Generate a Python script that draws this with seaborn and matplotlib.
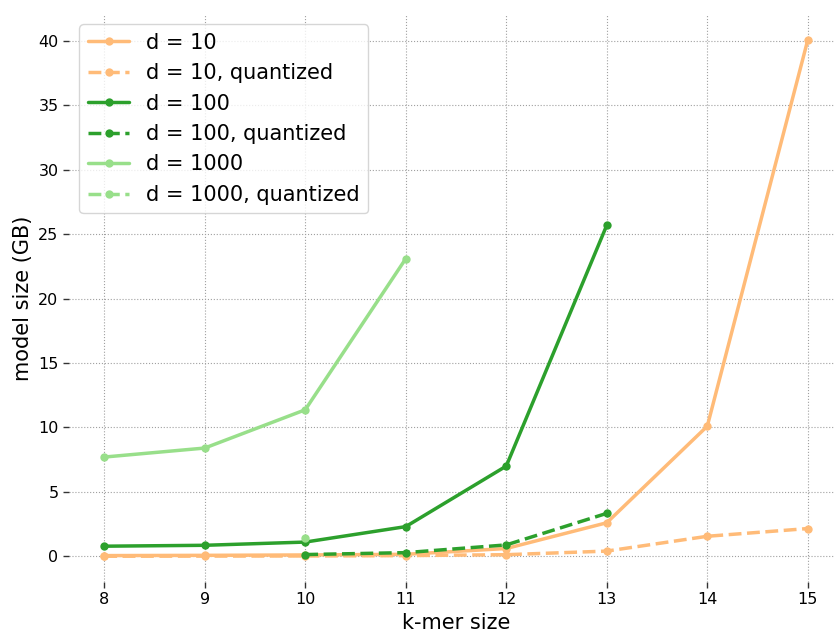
import matplotlib
matplotlib.use("Agg")
import matplotlib.pyplot as plt
import seaborn as sns
import pandas as pd

kmer = [8, 9, 10, 11, 12, 13, 14, 15]

d10 = [0.05, 0.07, 0.1, 0.15, 0.6, 2.6, 10.1, 40.1]
d10_q = [0.0, 0.01, 0.02, 0.05, 0.12, 0.4, 1.55, 2.15]

kmer_100 = [8, 9, 10, 11, 12, 13]
d100 = [0.78, 0.85, 1.1, 2.3, 7.0, 25.7]
kmer_100_q = [10, 11, 12, 13]
d100_q = [0.13, 0.28, 0.88, 3.33]

kmer_1000 = [8, 9, 10, 11]
d1000 = [7.7, 8.4, 11.37, 23.1]
kmer_1000_q = [10]
d1000_q = [1.42]

series = [
    ("d = 10", kmer, d10, "#ffbb78", "-"),
    ("d = 10, quantized", kmer, d10_q, "#ffbb78", "--"),
    ("d = 100", kmer_100, d100, "#2ca02c", "-"),
    ("d = 100, quantized", kmer_100_q, d100_q, "#2ca02c", "--"),
    ("d = 1000", kmer_1000, d1000, "#98df8a", "-"),
    ("d = 1000, quantized", kmer_1000_q, d1000_q, "#98df8a", "--"),
]

sns.set_style("white")
plt.rcParams['font.family'] = ['DejaVu Sans']
plt.rcParams['text.color'] = 'black'
plt.rcParams['axes.labelcolor'] = 'black'
plt.rcParams['xtick.color'] = 'black'
plt.rcParams['ytick.color'] = 'black'

fig = plt.figure(figsize=(8.35, 6.33), dpi=100)
ax = fig.add_axes([69 / 835, 51 / 633, 774 / 835, 568 / 633])

for label, xs, ys, color, ls in series:
    df = pd.DataFrame({"k": xs, "size": ys})
    sns.lineplot(data=df, x="k", y="size", ax=ax, color=color, linestyle=ls,
                 marker="o", markersize=6, markeredgewidth=0, linewidth=2.5,
                 label=label)

ax.set_xlim(7.65, 15.35)
ax.set_ylim(-2.0, 42.1)
ax.set_xticks(kmer)
ax.set_yticks([0, 5, 10, 15, 20, 25, 30, 35, 40])
ax.grid(True, linestyle=":", color="#a0a0a0", linewidth=0.8)
for s in ax.spines.values():
    s.set_visible(False)
ax.tick_params(axis="both", which="both", direction="out", length=4, width=1,
               color="#333333", labelcolor="black", labelsize=11.5,
               bottom=True, left=True)
ax.set_xlabel("k-mer size", fontsize=15, color="black")
ax.set_ylabel("model size (GB)", fontsize=15, color="black")
leg = ax.legend(loc="upper left", fontsize=15, frameon=True,
                bbox_to_anchor=(0.0, 1.0), borderaxespad=0.5)
for t in leg.get_texts():
    t.set_color("black")

fig.savefig("out.png", dpi=100)
